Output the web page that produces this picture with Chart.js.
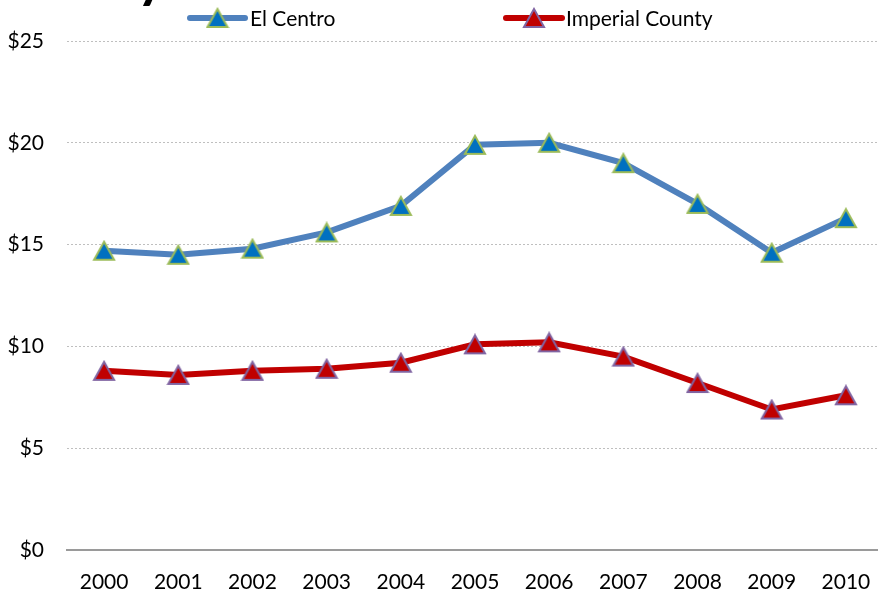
<!DOCTYPE html>
<html>
<head>
<meta charset="utf-8">
<script src="https://cdn.jsdelivr.net/npm/chart.js@4"></script>
<style>
  html, body { margin: 0; padding: 0; background: #fff; overflow: hidden; }
  #wrap { position: relative; width: 900px; height: 594px; }
</style>
</head>
<body>
<div id="wrap"><canvas id="c" width="900" height="594"></canvas></div>
<script>
// Years on the category axis
const years = ['2000','2001','2002','2003','2004','2005','2006','2007','2008','2009','2010'];
// Hourly wage, El Centro
const elCentro = [14.7, 14.5, 14.8, 15.6, 16.9, 19.9, 20.0, 19.0, 17.0, 14.6, 16.3];
// Hourly wage, Imperial County
const imperialCounty = [8.8, 8.6, 8.8, 8.9, 9.2, 10.1, 10.2, 9.5, 8.2, 6.9, 7.6];
// Value axis ticks
const yTicks = [0, 5, 10, 15, 20, 25];
const seriesNames = ['El Centro', 'Imperial County'];

const FONT = 'Lato, "Open Sans", sans-serif';

// Triangle marker drawn into a small canvas so it sits centred on the point
function triangleMarker(fill, stroke) {
  const m = document.createElement('canvas');
  m.width = 24; m.height = 22;
  const g = m.getContext('2d');
  g.beginPath();
  g.moveTo(12, 2);
  g.lineTo(22, 20);
  g.lineTo(2, 20);
  g.closePath();
  g.fillStyle = fill;
  g.fill();
  g.lineWidth = 2;
  g.lineJoin = 'miter';
  g.strokeStyle = stroke;
  g.stroke();
  return m;
}

const blueMarker = triangleMarker('#0070C0', '#9BBB59');
const redMarker = triangleMarker('#C00000', '#8064A2');

const colors = {
  line: ['#4F81BD', '#C00000'],
  marker: [blueMarker, redMarker]
};

// Line-and-marker legend plus the clipped heading at the top
const topDecor = {
  id: 'topDecor',
  afterDraw(chart) {
    const ctx = chart.ctx;
    ctx.save();
    // heading text, mostly above the canvas edge
    ctx.fillStyle = '#000';
    ctx.font = 'bold 56px ' + FONT;
    ctx.textAlign = 'right';
    ctx.textBaseline = 'alphabetic';
    ctx.fillText('County', 166, -3);

    const items = [
      { x0: 190, x1: 245, tx: 250, i: 0 },
      { x0: 506, x1: 562, tx: 566, i: 1 }
    ];
    const y = 18;
    items.forEach(it => {
      ctx.strokeStyle = colors.line[it.i];
      ctx.lineWidth = 6;
      ctx.lineCap = 'round';
      ctx.beginPath();
      ctx.moveTo(it.x0, y);
      ctx.lineTo(it.x1, y);
      ctx.stroke();
      const mk = colors.marker[it.i];
      const mx = (it.x0 + it.x1) / 2;
      ctx.drawImage(mk, mx - 12, y - 11);
      ctx.fillStyle = '#000';
      ctx.font = '21px ' + FONT;
      ctx.textAlign = 'left';
      ctx.textBaseline = 'middle';
      ctx.fillText(seriesNames[it.i], it.tx, y + 1);
    });
    ctx.restore();
  }
};

new Chart(document.getElementById('c'), {
  type: 'line',
  data: {
    labels: years,
    datasets: [
      {
        label: seriesNames[0],
        data: elCentro,
        borderColor: colors.line[0],
        borderWidth: 6,
        pointStyle: blueMarker,
        pointRadius: 11,
        pointHoverRadius: 11,
        tension: 0,
        fill: false
      },
      {
        label: seriesNames[1],
        data: imperialCounty,
        borderColor: colors.line[1],
        borderWidth: 6,
        pointStyle: redMarker,
        pointRadius: 11,
        pointHoverRadius: 11,
        tension: 0,
        fill: false
      }
    ]
  },
  options: {
    responsive: false,
    animation: false,
    events: [],
    layout: { padding: { top: 41, right: 0, left: 0, bottom: 0 } },
    plugins: {
      legend: { display: false },
      tooltip: { enabled: false },
      title: { display: false }
    },
    scales: {
      x: {
        type: 'category',
        offset: true,
        grid: { display: false, drawTicks: false },
        border: { display: true, color: '#9A9A9A', width: 2 },
        ticks: {
          color: '#000',
          font: { family: FONT, size: 21 },
          padding: 20,
          maxRotation: 0,
          autoSkip: false
        },
        afterFit(scale) { scale.height = 44; }
      },
      y: {
        min: 0,
        max: 25,
        afterBuildTicks(scale) {
          scale.ticks = yTicks.map(v => ({ value: v }));
        },
        grid: {
          drawTicks: false,
          color: ctx => (ctx.tick && ctx.tick.value === 0) ? 'rgba(0,0,0,0)' : '#BFBFBF',
          lineWidth: 1
        },
        border: { display: false, dash: [2, 2] },
        ticks: {
          color: '#000',
          font: { family: FONT, size: 21 },
          padding: 23,
          callback: v => '$' + v
        },
        afterFit(scale) { scale.width = 67; }
      }
    }
  },
  plugins: [topDecor]
});
</script>
</body>
</html>
